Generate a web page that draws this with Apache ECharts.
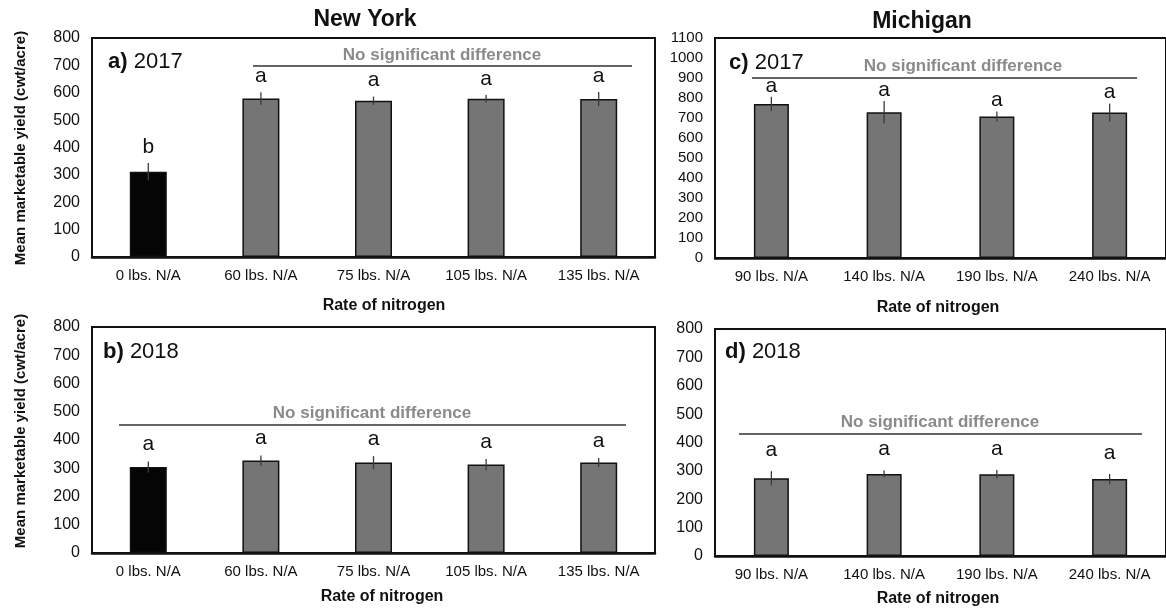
<!DOCTYPE html>
<html>
<head>
<meta charset="utf-8">
<script src="https://cdn.jsdelivr.net/npm/echarts@6/dist/echarts.min.js"></script>
<style>
html,body{margin:0;padding:0;background:#fff;}
#c{width:1166px;height:611px;}
</style>
</head>
<body>
<div id="c"></div>
<script>
// ---- data ----
const nyCategories = ['0 lbs. N/A', '60 lbs. N/A', '75 lbs. N/A', '105 lbs. N/A', '135 lbs. N/A'];
const miCategories = ['90 lbs. N/A', '140 lbs. N/A', '190 lbs. N/A', '240 lbs. N/A'];

const ny2017Mean = [311, 579, 571, 578, 577];
const ny2017Err  = [32, 23, 15, 14, 26];
const ny2017Letters = ['b', 'a', 'a', 'a', 'a'];

const ny2018Mean = [304, 327, 320, 313, 320];
const ny2018Err  = [20, 18, 23, 20, 16];
const ny2018Letters = ['a', 'a', 'a', 'a', 'a'];

const mi2017Mean = [770, 729, 707, 727];
const mi2017Err  = [36, 56, 25, 45];
const mi2017Letters = ['a', 'a', 'a', 'a'];

const mi2018Mean = [274, 289, 288, 271];
const mi2018Err  = [25, 12, 15, 18];
const mi2018Letters = ['a', 'a', 'a', 'a'];

const nyYMax = 800, miYMax2017 = 1100, miYMax2018 = 800, yInterval = 100;

// ---- chart ----
const FONT = '"Liberation Sans", Arial, sans-serif';
const chart = echarts.init(document.getElementById('c'), null, {renderer: 'canvas'});

const grids = [
  {left: 92, top: 38, width: 563, height: 219},
  {left: 92, top: 327, width: 563, height: 226},
  {left: 715, top: 38, width: 453, height: 220},
  {left: 715, top: 329, width: 453, height: 227}
].map(g => Object.assign({show: true, borderColor: '#111', borderWidth: 2, backgroundColor: '#fff', containLabel: false}, g));

function xAx(gi, cats) {
  return {
    type: 'category', gridIndex: gi, data: cats,
    axisLine: {show: true, lineStyle: {color: '#111', width: 2.5}},
    axisTick: {show: false},
    axisLabel: {color: '#111', fontFamily: FONT, fontSize: 15, margin: 11},
    splitLine: {show: false}
  };
}
function yAx(gi, max, fs) {
  return {
    type: 'value', gridIndex: gi, min: 0, max: max, interval: yInterval,
    axisLine: {show: false}, axisTick: {show: false},
    axisLabel: {color: '#111', fontFamily: FONT, fontSize: fs, margin: 12, formatter: v => String(v)},
    splitLine: {show: false}
  };
}

function barSeries(gi, means, firstBlack, bw) {
  return {
    type: 'bar', xAxisIndex: gi, yAxisIndex: gi, barWidth: bw,
    data: means.map((v, i) => ({
      value: v,
      itemStyle: {color: (firstBlack && i === 0) ? '#050505' : '#757575', borderColor: '#111', borderWidth: 1.5}
    })),
    z: 2
  };
}
function errSeries(gi, means, errs, letters, offset) {
  return {
    type: 'custom', xAxisIndex: gi, yAxisIndex: gi, z: 5,
    data: means.map((m, i) => [i, m, errs[i]]),
    encode: {x: 0, y: 1},
    renderItem: function (params, api) {
      const i = api.value(0), m = api.value(1), e = api.value(2);
      const top = api.coord([i, m + e]);
      const bot = api.coord([i, m - e]);
      return {
        type: 'group',
        children: [
          {type: 'line', shape: {x1: top[0], y1: top[1], x2: bot[0], y2: bot[1]}, style: {stroke: '#3a3a3a', lineWidth: 1.3}},
          {type: 'text', style: {text: letters[params.dataIndex], x: top[0], y: top[1] - offset,
            align: 'center', verticalAlign: 'middle', fontFamily: FONT, fontSize: 21, fill: '#111'}}
        ]
      };
    }
  };
}

function txt(x, y, text, opts) {
  return {type: 'text', x: x, y: y, z: 10,
    style: Object.assign({text: text, fontFamily: FONT, fill: '#111', align: 'center', verticalAlign: 'middle'}, opts || {})};
}
function hline(x1, x2, y) {
  return {type: 'line', z: 10, shape: {x1: x1, y1: y, x2: x2, y2: y}, style: {stroke: '#333', lineWidth: 1.5}};
}
function panelLabel(x, y, letter, year) {
  return {type: 'text', x: x, y: y, z: 10, style: {
    text: '{b|' + letter + ')} ' + year, fontFamily: FONT, fontSize: 22, fill: '#111',
    align: 'left', verticalAlign: 'middle',
    rich: {b: {fontWeight: 'bold', fontSize: 22, fontFamily: FONT, fill: '#111'}}
  }};
}
const nsdStyle = {fontSize: 17, fontWeight: 'bold', fill: '#8a8a8a'};
const yTitle = 'Mean marketable yield (cwt/acre)';

const option = {
  animation: false,
  backgroundColor: '#fff',
  grid: grids,
  xAxis: [xAx(0, nyCategories), xAx(1, nyCategories), xAx(2, miCategories), xAx(3, miCategories)],
  yAxis: [yAx(0, nyYMax, 16), yAx(1, nyYMax, 16), yAx(2, miYMax2017, 15), yAx(3, miYMax2018, 16)],
  series: [
    barSeries(0, ny2017Mean, true, 37),
    barSeries(1, ny2018Mean, true, 37),
    barSeries(2, mi2017Mean, false, 35),
    barSeries(3, mi2018Mean, false, 35),
    errSeries(0, ny2017Mean, ny2017Err, ny2017Letters, 16),
    errSeries(1, ny2018Mean, ny2018Err, ny2018Letters, 17),
    errSeries(2, mi2017Mean, mi2017Err, mi2017Letters, 11),
    errSeries(3, mi2018Mean, mi2018Err, mi2018Letters, 21)
  ],
  graphic: [
    txt(365, 20, 'New York', {fontSize: 23, fontWeight: 'bold'}),
    txt(922, 22, 'Michigan', {fontSize: 23, fontWeight: 'bold'}),
    Object.assign(txt(21, 148, yTitle, {fontSize: 15, fontWeight: 'bold'}), {rotation: Math.PI / 2}),
    Object.assign(txt(21, 431, yTitle, {fontSize: 15, fontWeight: 'bold'}), {rotation: Math.PI / 2}),
    txt(384, 306, 'Rate of nitrogen', {fontSize: 16, fontWeight: 'bold'}),
    txt(938, 308, 'Rate of nitrogen', {fontSize: 16, fontWeight: 'bold'}),
    txt(382, 597, 'Rate of nitrogen', {fontSize: 16, fontWeight: 'bold'}),
    txt(938, 599, 'Rate of nitrogen', {fontSize: 16, fontWeight: 'bold'}),
    panelLabel(108, 62, 'a', '2017'),
    panelLabel(103, 352, 'b', '2018'),
    panelLabel(729, 63, 'c', '2017'),
    panelLabel(725, 352, 'd', '2018'),
    hline(253, 632, 66), txt(442, 55, 'No significant difference', nsdStyle),
    hline(119, 626, 425), txt(372, 413, 'No significant difference', nsdStyle),
    hline(752, 1137, 78), txt(963, 66, 'No significant difference', nsdStyle),
    hline(739, 1142, 434), txt(940, 422, 'No significant difference', nsdStyle)
  ]
};
chart.setOption(option);
</script>
</body>
</html>
